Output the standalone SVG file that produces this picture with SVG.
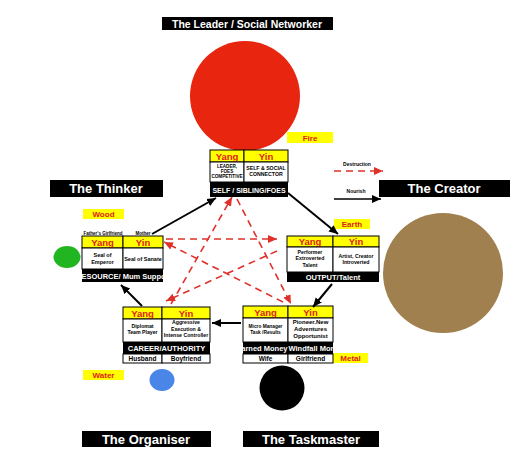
<svg xmlns="http://www.w3.org/2000/svg" width="532" height="468" viewBox="0 0 532 468">
<defs>
<style>
text{font-family:"Liberation Sans",Arial,sans-serif;font-weight:bold;text-anchor:middle}
.lbl{fill:#000}
.lbl-t{fill:#fff;font-size:13px}
.el{fill:#ffff00}
.el-t{fill:#e0201a;font-size:8px}
.yy{fill:#ffff00;stroke:#000;stroke-width:1}
.yy-t{fill:#e0201a;font-size:9.5px}
.cell{fill:#fff;stroke:#000;stroke-width:1}
.bar{fill:#000}
.bar-t{fill:#fff;font-size:7.5px}
.sm{fill:#000;font-size:5.2px}
.md{fill:#000;font-size:6.5px}
.nour{stroke:#000;stroke-width:2;fill:none;marker-end:url(#ah)}
.destr{stroke:#e0302a;stroke-width:1.6;fill:none;stroke-dasharray:7 5;marker-end:url(#rh)}
</style>
<marker id="ah" markerUnits="userSpaceOnUse" markerWidth="10" markerHeight="10" refX="9" refY="5" orient="auto"><path d="M0,1 L9,5 L0,9 Z" fill="#000"/></marker>
<marker id="rh" markerUnits="userSpaceOnUse" markerWidth="10" markerHeight="10" refX="9" refY="5" orient="auto"><path d="M0,1 L9,5 L0,9 Z" fill="#e0302a"/></marker>
<clipPath id="cRes"><rect x="82" y="269" width="81" height="13"/></clipPath>
<clipPath id="cW1"><rect x="243" y="342" width="45" height="12"/></clipPath>
<clipPath id="cW2"><rect x="288" y="342" width="45" height="12"/></clipPath>
</defs>
<rect width="532" height="468" fill="#fff"/>

<g id="labels">
<rect class="lbl" x="162" y="17" width="171" height="13"/>
<text class="lbl-t" x="247" y="28" style="font-size:10.5px">The Leader / Social Networker</text>
<rect class="lbl" x="50" y="180" width="113" height="17"/>
<text class="lbl-t" x="106" y="193">The Thinker</text>
<rect class="lbl" x="379" y="180" width="131" height="17"/>
<text class="lbl-t" x="444" y="193">The Creator</text>
<rect class="lbl" x="82" y="431" width="129" height="16"/>
<text class="lbl-t" x="146" y="444">The Organiser</text>
<rect class="lbl" x="243" y="431" width="136" height="16"/>
<text class="lbl-t" x="311" y="444">The Taskmaster</text>
</g>

<g id="circles">
<circle cx="245" cy="96" r="55" fill="#e8260f"/>
<ellipse cx="67" cy="257" rx="13.5" ry="11" fill="#22b522"/>
<circle cx="443" cy="273" r="60" fill="#a0804e"/>
<ellipse cx="162" cy="380" rx="12.5" ry="11" fill="#4a86e8"/>
<circle cx="282" cy="388" r="22.5" fill="#000"/>
</g>

<g id="elements">
<rect class="el" x="287" y="132" width="46" height="11"/><text class="el-t" x="310" y="140.5">Fire</text>
<rect class="el" x="83" y="209" width="41" height="10"/><text class="el-t" x="103.5" y="217">Wood</text>
<rect class="el" x="334" y="219" width="36" height="10"/><text class="el-t" x="352" y="227">Earth</text>
<rect class="el" x="333" y="353" width="35" height="10"/><text class="el-t" x="350.5" y="361">Metal</text>
<rect class="el" x="83" y="370" width="41" height="10"/><text class="el-t" x="103.5" y="378">Water</text>
</g>

<g id="legend">
<text x="357" y="166" style="font-size:5px;fill:#000">Destruction</text>
<line class="destr" x1="334" y1="171" x2="383" y2="171"/>
<text x="356" y="193" style="font-size:5px;fill:#000">Nourish</text>
<line class="nour" x1="334" y1="199" x2="381" y2="199" style="stroke-width:1.5"/>
</g>

<g id="node-self">
<rect class="yy" x="210" y="150" width="34" height="12"/>
<rect class="yy" x="244" y="150" width="44" height="12"/>
<text class="yy-t" x="227" y="159.5">Yang</text>
<text class="yy-t" x="266" y="159.5">Yin</text>
<rect class="cell" x="210" y="162" width="34" height="20"/>
<rect class="cell" x="244" y="162" width="44" height="20"/>
<text class="sm" x="227" y="167.5" style="font-size:4.6px">LEADER,</text>
<text class="sm" x="227" y="172.5" style="font-size:4.6px">FOES</text>
<text class="sm" x="227" y="177.5" style="font-size:4.6px">COMPETITIVE</text>
<text class="sm" x="266" y="170">SELF &amp; SOCIAL</text>
<text class="sm" x="266" y="175.5">CONNECTOR</text>
<rect class="bar" x="210" y="182" width="78" height="15"/>
<text class="bar-t" x="249" y="193" style="font-size:7px">SELF / SIBLING/FOES</text>
</g>

<g id="node-resource">
<text x="103" y="234.5" style="font-size:4.5px;fill:#000">Father's Girlfriend</text>
<text x="143" y="234.5" style="font-size:4.5px;fill:#000">Mother</text>
<rect class="yy" x="82" y="236" width="41" height="12"/>
<rect class="yy" x="123" y="236" width="40" height="12"/>
<text class="yy-t" x="102.5" y="245.5">Yang</text>
<text class="yy-t" x="143" y="245.5">Yin</text>
<rect class="cell" x="82" y="248" width="41" height="21"/>
<rect class="cell" x="123" y="248" width="40" height="21"/>
<text class="sm" x="102.5" y="257" style="font-size:5.5px">Seal of</text>
<text class="sm" x="102.5" y="263.5" style="font-size:5.5px">Emperor</text>
<text class="sm" x="143" y="261" style="font-size:5.5px">Seal of Sanate</text>
<rect class="bar" x="82" y="269" width="81" height="13"/>
<text class="bar-t" x="123.5" y="279" clip-path="url(#cRes)">RESOURCE/ Mum Support</text>
</g>

<g id="node-output">
<rect class="yy" x="287" y="236" width="46" height="11"/>
<rect class="yy" x="333" y="236" width="46" height="11"/>
<text class="yy-t" x="310" y="245">Yang</text>
<text class="yy-t" x="356" y="245">Yin</text>
<rect class="cell" x="287" y="247" width="46" height="25"/>
<rect class="cell" x="333" y="247" width="46" height="25"/>
<text class="sm" x="310" y="254">Performer</text>
<text class="sm" x="310" y="260">Extroverted</text>
<text class="sm" x="310" y="266.5">Talent</text>
<text class="sm" x="356" y="257.5">Artist, Creator</text>
<text class="sm" x="356" y="263.5">Introverted</text>
<rect class="bar" x="287" y="272" width="92" height="10"/>
<text class="bar-t" x="333" y="280">OUTPUT/Talent</text>
</g>

<g id="node-career">
<rect class="yy" x="123" y="307" width="39" height="12"/>
<rect class="yy" x="162" y="307" width="48" height="12"/>
<text class="yy-t" x="142.5" y="316.5">Yang</text>
<text class="yy-t" x="186" y="316.5">Yin</text>
<rect class="cell" x="123" y="319" width="39" height="23"/>
<rect class="cell" x="162" y="319" width="48" height="23"/>
<text class="sm" x="142.5" y="327.5">Diplomat</text>
<text class="sm" x="142.5" y="334">Team Player</text>
<text class="sm" x="186" y="324">Aggressive</text>
<text class="sm" x="186" y="330.5">Execution &amp;</text>
<text class="sm" x="186" y="337">Intense Controller</text>
<rect class="bar" x="123" y="342" width="87" height="12"/>
<text class="bar-t" x="166.5" y="351">CAREER/AUTHORITY</text>
<rect class="cell" x="123" y="354" width="39" height="9"/>
<rect class="cell" x="162" y="354" width="48" height="9"/>
<text class="md" x="142.5" y="361">Husband</text>
<text class="md" x="186" y="361">Boyfriend</text>
</g>

<g id="node-wealth">
<rect class="yy" x="243" y="306" width="45" height="12"/>
<rect class="yy" x="288" y="306" width="45" height="12"/>
<text class="yy-t" x="265.5" y="315.5">Yang</text>
<text class="yy-t" x="310.5" y="315.5">Yin</text>
<rect class="cell" x="243" y="318" width="45" height="24"/>
<rect class="cell" x="288" y="318" width="45" height="24"/>
<text class="sm" x="265.5" y="327.5" style="font-size:4.8px">Micro Manager</text>
<text class="sm" x="265.5" y="333.5" style="font-size:4.8px">Task /Results</text>
<text class="md" x="310.5" y="324" style="font-size:6px">Pioneer.New</text>
<text class="md" x="310.5" y="331" style="font-size:6px">Adventures</text>
<text class="md" x="310.5" y="338" style="font-size:6px">Opportunist</text>
<rect class="bar" x="243" y="342" width="90" height="12"/>
<text class="bar-t" x="287.5" y="351" clip-path="url(#cW1)" style="text-anchor:end">Earned Money</text>
<text class="bar-t" x="288.5" y="351" clip-path="url(#cW2)" style="text-anchor:start">Windfall Money</text>
<rect class="cell" x="243" y="354" width="45" height="9"/>
<rect class="cell" x="288" y="354" width="45" height="9"/>
<text class="md" x="265.5" y="361">Wife</text>
<text class="md" x="310.5" y="361">Girlfriend</text>
</g>

<g id="connectors">
<line class="nour" x1="152" y1="234" x2="216" y2="198"/>
<line class="nour" x1="288" y1="193" x2="338" y2="234"/>
<line class="nour" x1="332" y1="284" x2="313" y2="307"/>
<line class="nour" x1="241" y1="323" x2="212" y2="323"/>
<line class="nour" x1="142" y1="306" x2="121" y2="285"/>
<line class="destr" x1="166" y1="239" x2="277" y2="239"/>
<line class="destr" x1="277" y1="251" x2="166" y2="301"/>
<line class="destr" x1="171" y1="304" x2="232" y2="197"/>
<line class="destr" x1="237" y1="199" x2="291" y2="304"/>
<line class="destr" x1="283" y1="302" x2="164" y2="242"/>
</g>
</svg>
